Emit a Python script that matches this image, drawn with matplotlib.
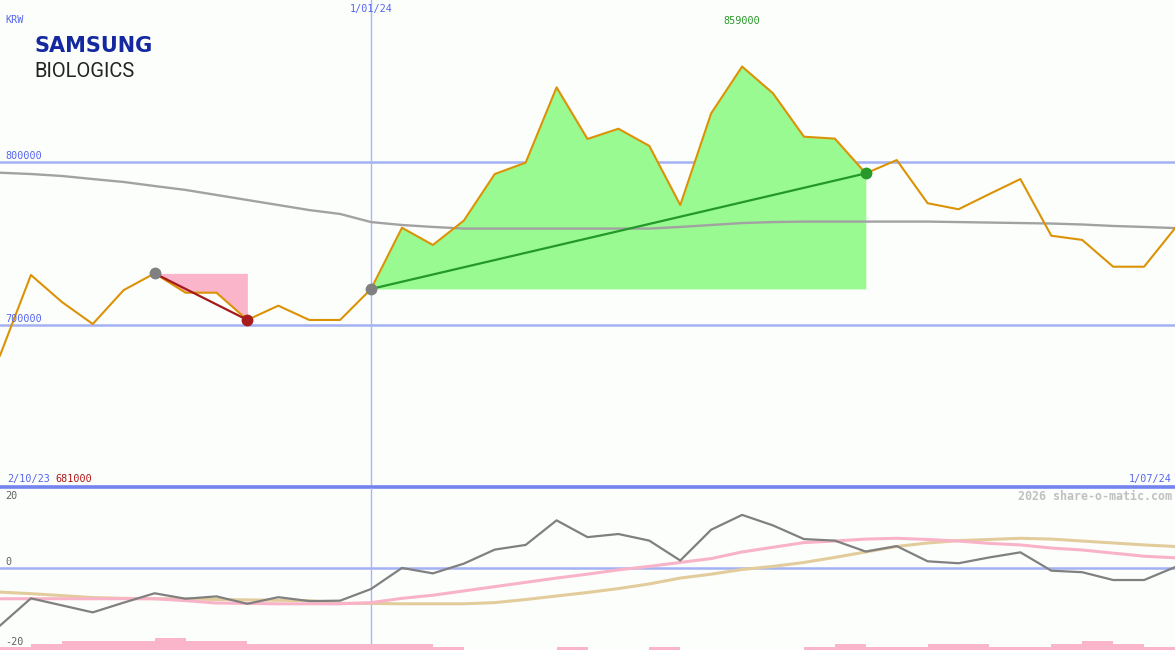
import matplotlib
matplotlib.use("Agg")
import matplotlib.pyplot as plt
import numpy as np

# ---------------- data ----------------
first_date = "2/10/23"
mid_date = "1/01/24"
last_date = "1/07/24"
currency = "KRW"

# weekly closing prices (KRW)
price = [681000, 730600, 714000, 700400, 721300, 731600, 719700, 719700, 702900,
         711700, 702900, 702900, 722000, 759700, 749100, 764100, 792800, 799800,
         846200, 814400, 820700, 810100, 773700, 830200, 859000, 842500, 815800,
         814600, 793200, 801400, 774800, 771100, 780500, 789700, 754800, 752200,
         735700, 735700, 759400]

# long moving average (KRW)
moving_avg = [793600, 792800, 791600, 789700, 787900, 785400, 783000, 779900, 776800,
              773700, 770600, 768200, 763200, 761400, 760200, 759200, 759200, 759200,
              759200, 759200, 759200, 759200, 760200, 761400, 762600, 763200, 763500,
              763500, 763500, 763500, 763500, 763200, 762900, 762600, 762300, 761700,
              760800, 760200, 759500]

# lower panel indicators (%)
oscillator = [-14.9, -7.9, -9.7, -11.5, -9.0, -6.6, -8.0, -7.4, -9.3, -7.6, -8.6, -8.5,
              -5.5, -0.1, -1.5, 1.0, 4.6, 5.8, 12.1, 7.8, 8.6, 6.9, 1.8, 9.7, 13.5, 10.8,
              7.3, 6.9, 4.1, 5.5, 1.6, 1.1, 2.6, 3.9, -0.8, -1.2, -3.2, -3.2, 0.1]
signal_pink = [-8.0, -8.0, -8.0, -8.0, -8.0, -8.0, -8.5, -9.1, -9.2, -9.3, -9.3, -9.3,
               -9.0, -7.9, -7.1, -6.0, -4.9, -3.8, -2.7, -1.7, -0.6, 0.3, 1.3, 2.3, 4.0,
               5.2, 6.4, 6.8, 7.3, 7.5, 7.2, 6.8, 6.2, 5.8, 5.0, 4.5, 3.7, 2.9, 2.5]
signal_tan = [-6.3, -6.7, -7.2, -7.7, -7.9, -8.0, -8.0, -8.2, -8.3, -8.4, -8.5, -9.2,
              -9.2, -9.3, -9.3, -9.3, -9.0, -8.2, -7.3, -6.4, -5.4, -4.2, -2.7, -1.7,
              -0.5, 0.3, 1.3, 2.6, 4.0, 5.4, 6.3, 6.9, 7.2, 7.5, 7.3, 6.8, 6.3, 5.8, 5.4]
# weekly volume level bars (between consecutive points)
vol_levels = [1, 2, 3, 3, 3, 4, 3, 3, 2, 2, 2, 2, 2, 2, 1, 0, 0, 0, 1, 0, 0, 1, 0, 0,
              0, 0, 1, 2, 1, 1, 2, 2, 1, 1, 2, 3, 2, 1]

gain_start, gain_end = 12, 28
loss_start, loss_end = 5, 8
mid_index = 12

# ---------------- figure ----------------
W, H = 1175, 650
bg = "#fcfefc"
fig = plt.figure(figsize=(W / 100, H / 100), dpi=100)
fig.patch.set_facecolor(bg)

def fx(px):
    return px / W

def fy(py):
    return 1 - py / H

ax = fig.add_axes([0, 163 / H, 1, 487 / H])
ax2 = fig.add_axes([0, 0, 1, 162 / H])
for a in (ax, ax2):
    a.set_axis_off()
    a.set_xlim(0, len(price) - 1)

x = np.arange(len(price))
p = np.array(price, dtype=float)

# main panel
ax.set_ylim(600000, 900000)
grid_c = "#a3b2f2"
for lvl in (700000, 800000):
    ax.axhline(lvl, color=grid_c, lw=1.8, zorder=1)
ax.axvline(mid_index, color="#a8b6fa", lw=1.0, zorder=1)
ax.axhline(600000, color="#7384ee", lw=2.6, zorder=5, clip_on=False)

# gain zone
xs = x[gain_start:gain_end + 1]
ax.fill_between(xs, p[gain_start:gain_end + 1], p[gain_start], color="#98fa90",
                lw=0, zorder=2)
# loss zone
xs2 = x[loss_start:loss_end + 1]
ax.fill_between(xs2, p[loss_start:loss_end + 1], p[loss_start], color="#fbb5ca",
                lw=0, zorder=2)

ax.plot(x, moving_avg, color="#a2a2a2", lw=1.7, zorder=3)
ax.plot(x, price, color="#dc9205", lw=1.5, zorder=4)

ax.plot([gain_start, gain_end], [price[gain_start], price[gain_end]],
        color="#23992a", lw=1.6, zorder=5)
ax.plot([loss_start, loss_end], [price[loss_start], price[loss_end]],
        color="#a3191c", lw=1.6, zorder=5)
ax.plot([gain_start], [price[gain_start]], "o", color="#808080", ms=8.5, zorder=6,
        mec="none")
ax.plot([loss_start], [price[loss_start]], "o", color="#808080", ms=8.5, zorder=6,
        mec="none")
ax.plot([gain_end], [price[gain_end]], "o", color="#26992a", ms=8.5, zorder=6,
        mec="none")
ax.plot([loss_end], [price[loss_end]], "o", color="#a81c1c", ms=8.5, zorder=6,
        mec="none")

# lower panel
ax2.set_ylim(-21.15, 20.4)
ax2.axhline(0, color=grid_c, lw=1.8, zorder=1)
ax2.axvline(mid_index, color="#a8b6fa", lw=1.0, zorder=1)
bar_unit = 0.77
ax2.bar(x[:-1], [v * bar_unit for v in vol_levels], width=1.0, align="edge",
        bottom=-21.15, color="#fbb5ca", lw=0, zorder=2)
ax2.plot(x, signal_tan, color="#e3cc9c", lw=2.2, zorder=3)
ax2.plot(x, signal_pink, color="#f9b3c8", lw=2.2, zorder=3)
ax2.plot(x, oscillator, color="#808080", lw=1.6, zorder=4)

# ---------------- texts ----------------
mono = "DejaVu Sans Mono"
blue_t = "#5566ee"
fs = 7.3
fig.text(fx(5), fy(20), currency, color=blue_t, fontsize=fs, family=mono, va="center")
fig.text(fx(371), fy(9), mid_date, color=blue_t, fontsize=fs, family=mono,
         va="center", ha="center")
fig.text(fx(742), fy(21), f"{max(price)}", color="#2a9a2a", fontsize=fs, family=mono,
         va="center", ha="center")
fig.text(fx(5), fy(156), "800000", color=blue_t, fontsize=fs, family=mono, va="center")
fig.text(fx(5), fy(319), "700000", color=blue_t, fontsize=fs, family=mono, va="center")
fig.text(fx(7), fy(479), first_date, color=blue_t, fontsize=fs, family=mono, va="center")
fig.text(fx(55), fy(479), f"{min(price)}", color="#b01818", fontsize=fs, family=mono,
         va="center")
fig.text(fx(1172), fy(479), last_date, color=blue_t, fontsize=fs, family=mono,
         va="center", ha="right")
fig.text(fx(1172), fy(496), "2026 share-o-matic.com", color="#c0c0c0", fontsize=8.4,
         family=mono, fontweight="bold", va="center", ha="right")
gray_t = "#606060"
fig.text(fx(5), fy(496), "20", color=gray_t, fontsize=fs, family=mono, va="center")
fig.text(fx(5), fy(562), "0", color=gray_t, fontsize=fs, family=mono, va="center")
fig.text(fx(5), fy(642), "-20", color=gray_t, fontsize=fs, family=mono, va="center")

# logo
fig.text(fx(34), fy(52), "SAMSUNG", color="#1428a0", fontsize=15, family="DejaVu Sans",
         fontweight="bold", va="baseline", ha="left")
fig.text(fx(34), fy(77), "BIOLOGICS", color="#222222", fontsize=14.5, family="Roboto",
         va="baseline", ha="left")

fig.savefig("out.png", dpi=100, facecolor=bg)
